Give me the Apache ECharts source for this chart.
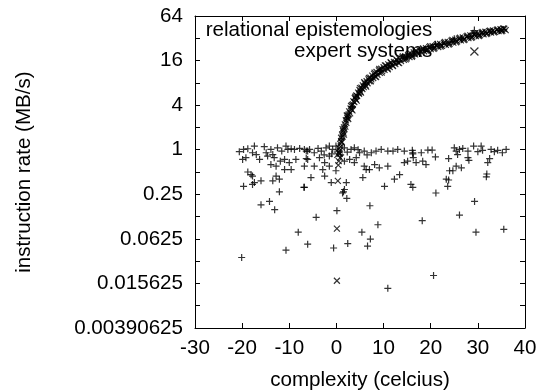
<!DOCTYPE html>
<html>
<head>
<meta charset="utf-8">
<script src="https://cdn.jsdelivr.net/npm/echarts@6/dist/echarts.min.js"></script>
<style>
html,body{margin:0;padding:0;background:#fff;}
#chart{width:548px;height:391px;}
</style>
</head>
<body>
<div id="chart"></div>
<script>
// ---- data ----
const seriesNames = ['relational epistemologies', 'expert systems'];
const xTicks = [-30, -20, -10, 0, 10, 20, 30, 40];
const yTickLabels = ['64', '16', '4', '1', '0.25', '0.0625', '0.015625', '0.00390625'];

const relationalPts = [
  [-20.6,0.94],[-19.7,1.01],[-18.8,1.03],[-17.4,1.12],[-15.3,1.10],[-13.9,1.01],[-12.5,1.06],[-11.6,0.96],[-10.7,1.12],[-10.3,1.01],[-9.6,1.03],[-8.9,1.01],[-7.8,1.04],[-6.8,1.01],[-6.1,0.96],
  [-19.9,0.74],[-19.2,0.78],[-17.8,0.91],[-17.0,0.86],[-16.3,0.74],[-14.9,0.91],[-14.6,0.82],[-13.5,0.86],[-13.2,0.78],[-11.9,0.70],[-11.0,0.74],[-10.0,0.67],[-8.6,0.74],[-6.4,0.76],
  [-13.9,0.63],[-12.8,0.60],[-11.0,0.54],[-9.6,0.54],[-6.8,0.60],
  [-18.8,0.50],[-18.1,0.46],[-17.8,0.44],[-16.0,0.38],[-17.4,0.36],[-13.5,0.38],[-12.8,0.44],[-12.1,0.40],[-19.7,0.32],[-17.8,0.34],[-12.1,0.27],[-6.9,0.31],[-16.0,0.18],[-14.2,0.20],[-13.1,0.155],
  [-4.3,0.122],[0.1,0.15],[7.1,0.175],[8.8,0.097],[-8.1,0.077],[-6.1,0.053],[-10.7,0.044],[-20.1,0.035],[-0.6,0.047],[2.4,0.054],[5.4,0.077],[7.2,0.062],[6.6,0.050],[10.9,0.0134],[18.2,0.110],[20.6,0.020],[26.1,0.131],[29.3,0.20],[29.6,0.077],[35.5,0.084],[2.2,0.22],[1.5,0.27],[21.1,0.26],[23.6,0.32],[23.8,0.39],
  [-6.4,0.96],[-5.7,1.01],[-4.7,0.91],[-3.2,0.96],[-2.2,1.06],[-1.5,1.12],[-0.8,1.01],[-0.1,1.12],[0.3,0.96],[1.7,1.06],[3.1,1.01],[3.8,1.06],[4.9,0.91],[5.9,0.96],[7.4,0.91],[8.4,0.96],[9.5,1.01],[10.9,0.96],[12.0,0.96],[13.0,1.01],[14.4,0.96],[16.2,0.91],
  [-6.1,0.74],[-3.6,0.78],[-1.5,0.82],[-2.5,0.67],[-1.5,0.60],[-4.7,0.60],[-2.9,0.54],[-0.1,0.52],[1.7,0.70],[2.8,0.74],[3.8,0.67],[4.2,0.78],[5.9,0.60],[7.0,0.54],[8.1,0.63],[9.1,0.57],[10.9,0.60],[12.3,0.40],[13.4,0.46],[14.4,0.67],[15.1,0.70],
  [-5.4,0.42],[-2.5,0.44],[-1.1,0.36],[2.1,0.36],[1.7,0.29],[1.3,0.26],[5.6,0.42],[10.2,0.32],[-6.8,0.31],[15.8,0.34],[16.2,0.31],[6.3,0.54],
  [-3.9,1.04],[-1.0,0.88],[0.9,0.85],[2.3,0.93],[-2.6,0.85],[4.6,1.0],[6.5,0.85],
  [16.1,0.98],[16.2,0.88],[16.3,0.78],[16.9,0.67],[18.0,0.91],[18.3,0.70],[19.0,0.63],[19.4,0.99],[20.3,0.99],[21.0,0.80],[23.8,0.76],[25.0,1.06],[25.4,0.96],[26.1,1.01],[26.8,1.04],[25.7,0.86],[27.9,0.96],[29.1,1.12],[30.0,0.94],[30.7,1.12],[31.0,0.98],[32.8,1.01],[33.5,0.94],[34.2,0.98],[35.2,0.91],[36.0,1.01],[27.9,0.78],[28.1,0.72],[32.5,0.76],[32.1,0.67],[24.0,0.52],[24.7,0.52],[25.4,0.60],[26.5,0.57],[23.3,0.40],[31.9,0.47],[31.8,0.43],
  // '+' marks mixed into the rising curve
  [1.1,1.4],[2.2,2.6],[3.4,3.8],[4.7,5.5],[6.1,7.7],[7.7,9.6],[9.3,11.6],[11.1,13.6],[12.9,15.6],[14.8,17.8],[16.6,20.1],[18.5,22.2],[20.5,24.3],[22.5,26.5],[24.5,28.9],[26.5,31.3],[28.5,33.9],[30.5,36.4],[32.5,38.8],[34.5,41.0],[35.5,42.0],[29.0,37.5],[25.0,31.5],[21.0,26.5]
];

const expertPts = [
  [0.3,0.38],[0.1,0.086],[0.1,0.017],[0.5,0.70],[0.8,0.78],[0.4,0.62],[0.7,0.88],[0.2,0.85],
  [0.5,0.92],[0.6,1.05],[0.7,0.98],[0.8,1.2],[0.9,1.1],[1.0,1.3],[1.0,1.45],[1.1,1.25],[1.2,1.6],[1.3,1.5],[1.4,1.8],[1.5,1.7],[1.6,2.0],[1.7,1.9],[1.8,2.2],[1.9,2.05],[2.0,2.5],[2.1,2.3],[2.3,2.7],[2.4,2.9],[2.6,3.0],[2.7,3.3],[2.9,3.1],[3.0,3.6],[3.2,3.5],[3.3,4.0],[3.5,4.1],[3.6,4.5],[3.8,4.4],[3.9,5.0],[4.1,4.8],[4.2,5.4],[4.4,5.3],[4.6,5.9],[4.8,5.7],[4.9,6.4],[5.1,6.1],[5.3,6.9],[5.5,6.6],[5.6,7.4],[5.8,7.0],[6.0,7.9],[6.2,7.4],[6.4,8.4],[6.6,7.9],[6.8,8.9],[7.0,8.4],[7.2,9.4],[7.4,8.9],[7.6,10.0],[7.8,9.3],[8.0,10.6],[8.2,9.8],[8.5,11.2],[8.7,10.3],[9.0,11.8],[9.2,10.9],[9.5,12.4],[9.7,11.5],[10.0,13.0],[10.2,12.0],[10.5,13.7],[10.8,12.6],[11.0,14.2],[11.3,13.1],[11.6,14.8],[11.9,13.8],[12.2,15.4],[12.5,14.3],[12.8,16.1],[13.1,15.0],[13.4,16.9],[13.7,15.7],[14.0,17.6],[14.3,16.4],[14.6,18.3],[14.9,17.1],[15.2,19.0],[15.5,17.9],[15.8,19.8],[16.1,18.6],[16.4,20.6],[16.7,19.4],[17.0,21.4],[17.3,20.0],[17.6,22.1],[18.0,20.8],[18.3,22.8],[18.6,21.4],[19.0,23.6],[19.3,22.1],[19.7,24.3],[20.0,22.8],[20.4,25.0],[20.8,23.6],[21.2,25.9],[21.6,24.4],[22.0,26.8],[22.4,25.3],[22.8,27.7],[23.2,26.1],[23.6,28.6],[24.0,27.0],[24.4,29.6],[24.8,28.0],[25.2,30.6],[25.6,29.0],[26.0,31.7],[26.4,30.0],[26.8,32.8],[27.2,31.0],[27.6,33.8],[28.0,32.1],[28.4,35.0],[28.8,33.2],[29.2,36.0],[29.6,34.2],[30.0,37.1],[30.4,35.2],[30.8,38.2],[31.2,36.3],[31.6,39.2],[32.0,37.3],[32.4,40.0],[32.8,38.3],[33.2,40.8],[33.6,39.1],[34.0,41.6],[34.4,39.9],[34.8,42.4],[35.2,40.6],[35.6,43.0],[35.9,41.3],
  [1.3,1.9],[1.6,1.6],[2.2,2.9],[2.5,2.6],[3.1,3.9],[3.4,3.4],[4.0,5.2],[4.3,4.6],[5.0,6.8],[5.2,5.9],[5.9,8.2],[6.3,7.1],[6.9,9.3],[7.3,8.4],[8.1,11.0],[8.4,9.6],[9.1,12.3],[9.6,11.0],[10.3,13.8],[10.9,12.2],[11.5,15.2],[12.0,13.5],[12.7,16.6],[13.3,14.8],[14.1,18.2],[14.7,16.6],[15.4,19.7],[16.0,18.0],[16.9,21.6],[17.5,19.8],[18.4,23.4],[19.1,21.6],[19.9,25.0],[20.6,23.0],[21.4,26.7],[22.1,24.8],[23.0,28.5],[23.8,26.4],[24.6,30.4],[25.4,28.3],[26.2,32.5],[27.0,30.3],[27.8,34.6],[28.6,32.4],[29.4,36.8],[30.2,34.4],[31.0,38.9],[31.8,36.6],[32.6,40.6],[33.4,38.4],[34.2,42.2],[35.0,39.8],[35.4,43.4]
];

// ---- chart ----
const FONT = "'Liberation Sans', Arial, Helvetica, sans-serif";
const PLUS = 'path://M0,4L8,4M4,0L4,8';
const CROSS = 'path://M0,0L8,8M8,0L0,8';
const markStyle = {color: 'rgba(0,0,0,0)', borderColor: '#000', borderWidth: 1.2};
const FS = 20.6;

function yLabel(v) {
  const e = Math.round(Math.log2(v));
  const s = String(Math.pow(2, e));
  return yTickLabels.indexOf(s) >= 0 ? s : '';
}

const axisCommon = {
  axisLine: {show: true, onZero: false, lineStyle: {color: '#000', width: 1}},
  axisTick: {show: true, inside: true, length: 5, lineStyle: {color: '#000', width: 1}},
  splitLine: {show: false},
  minorTick: {show: false}
};

const chart = echarts.init(document.getElementById('chart'), null, {renderer: 'canvas'});
chart.setOption({
  animation: false,
  backgroundColor: '#fff',
  textStyle: {fontFamily: FONT},
  grid: {left: 195, top: 16, width: 330, height: 312, show: false, containLabel: false, outerBoundsMode: 'none'},
  legend: {
    orient: 'vertical', right: 69, top: 20, align: 'right', padding: 0,
    itemWidth: 8, itemHeight: 8, itemGap: 0, selectedMode: false,
    textStyle: {fontSize: FS, color: '#000', fontFamily: FONT, padding: [0, 33, 0, 0]},
    data: [
      {name: seriesNames[0], icon: PLUS, itemStyle: markStyle},
      {name: seriesNames[1], icon: CROSS, itemStyle: markStyle}
    ]
  },
  xAxis: [
    Object.assign({
      type: 'value', position: 'bottom', min: xTicks[0], max: xTicks[xTicks.length - 1], interval: 10,
      name: 'complexity (celcius)', nameLocation: 'middle', nameGap: 42,
      nameTextStyle: {fontSize: FS, color: '#000', fontFamily: FONT},
      axisLabel: {show: true, margin: 10, fontSize: FS, color: '#000', fontFamily: FONT, showMinLabel: true, showMaxLabel: true}
    }, axisCommon),
    Object.assign({
      type: 'value', position: 'top', min: xTicks[0], max: xTicks[xTicks.length - 1], interval: 10,
      axisLabel: {show: false}
    }, axisCommon)
  ],
  yAxis: [
    Object.assign({
      type: 'log', logBase: 2, position: 'left', min: 0.00390625, max: 64, interval: 1,
      name: 'instruction rate (MB/s)', nameLocation: 'middle', nameGap: 160, nameRotate: 90,
      nameTextStyle: {fontSize: FS, color: '#000', fontFamily: FONT},
      axisLabel: {show: true, margin: 12, fontSize: FS, color: '#000', fontFamily: FONT, formatter: yLabel, showMinLabel: true, showMaxLabel: true}
    }, axisCommon),
    Object.assign({
      type: 'log', logBase: 2, position: 'right', min: 0.00390625, max: 64, interval: 1,
      axisLabel: {show: false}
    }, axisCommon)
  ],
  series: [
    {
      name: seriesNames[0], type: 'scatter', xAxisIndex: 0, yAxisIndex: 0,
      symbol: PLUS, symbolSize: 7, itemStyle: markStyle,
      emphasis: {disabled: true}, data: relationalPts
    },
    {
      name: seriesNames[1], type: 'scatter', xAxisIndex: 0, yAxisIndex: 0,
      symbol: CROSS, symbolSize: 6, itemStyle: markStyle,
      emphasis: {disabled: true}, data: expertPts
    }
  ]
});
</script>
</body>
</html>
